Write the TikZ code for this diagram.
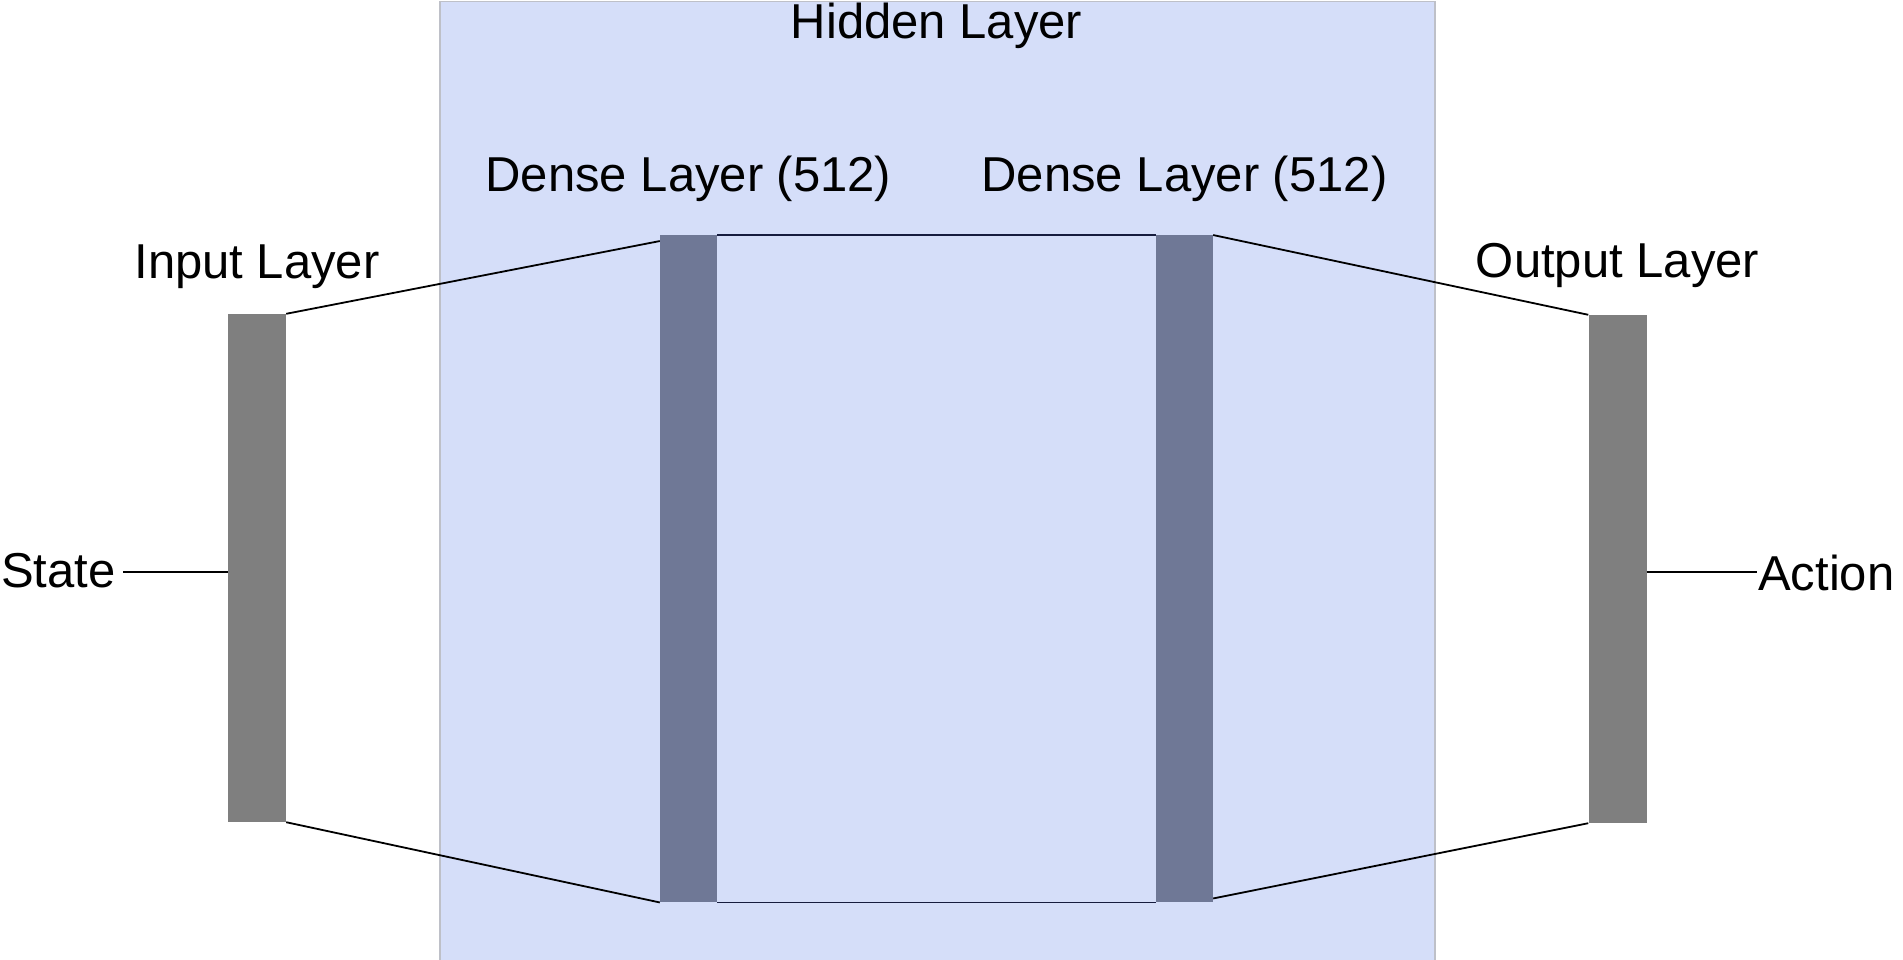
\documentclass[tikz,border=0pt]{standalone}
\usepackage{fontspec}
\setmainfont{Liberation Sans}
\usetikzlibrary{calc}
\definecolor{hiddenfill}{RGB}{213,222,249}
\definecolor{hiddenborder}{RGB}{190,192,200}
\definecolor{densecol}{RGB}{111,120,150}
\definecolor{iocol}{RGB}{127,127,127}
\definecolor{navyline}{RGB}{22,28,62}
\begin{document}
\begin{tikzpicture}[x=1pt,y=-1pt,
  iobar/.style={fill=iocol,draw=none,inner sep=0pt,minimum width=58pt,minimum height=508pt},
  densebar/.style={fill=densecol,draw=none,inner sep=0pt,minimum width=57pt,minimum height=667pt},
  lbl/.style={inner sep=0pt,anchor=base,font=\fontsize{49}{55}\selectfont},
  conn/.style={line width=1.8pt,black},
  hconn/.style={line width=1.8pt,navyline}]
\useasboundingbox (0,0) rectangle (1903,959);
\clip (0,0) rectangle (1903,959);
% hidden layer background
\node[draw=hiddenborder,fill=hiddenfill,line width=1.5pt,inner sep=0pt,
      minimum width=995pt,minimum height=980pt,anchor=north west] (hidden) at (439,0.75) {};
\node[lbl] (hiddenlbl) at (936.5,38) {Hidden Layer};
% bars
\node[iobar] (in) at (257,568) {};
\node[densebar] (d1) at (688.5,568.75) {};
\node[densebar] (d2) at (1184.5,568.75) {};
\node[iobar] (out) at (1617.5,569) {};
% labels
\node[lbl] (inlbl) at (257,278) {Input Layer};
\node[lbl] (d1lbl) at (688.5,191) {Dense Layer (512)};
\node[lbl] (d2lbl) at (1184.5,191) {Dense Layer (512)};
\node[lbl] (outlbl) at (1617.5,277) {Output Layer};
\node[lbl,anchor=base west] (state) at (1,587) {State};
\node[lbl,anchor=base west] (action) at (1758,590) {Action};
% connectors
\coordinate (sfree) at (123,572);
\coordinate (afree) at (1757,572);
\draw[conn] (sfree) -- (sfree -| in.west);
\draw[conn] (afree -| out.east) -- (afree);
\draw[conn] (in.north east) -- ($(d1.north west)+(0,6)$);
\draw[conn] (in.south east) -- (d1.south west);
\draw[hconn] (d1.north east) -- (d2.north west);
\draw[hconn] (d1.south east) -- (d2.south west);
\draw[conn] (d2.north east) -- (out.north west);
\draw[conn] ($(d2.south east)+(0,-4)$) -- (out.south west);
\end{tikzpicture}
\end{document}
